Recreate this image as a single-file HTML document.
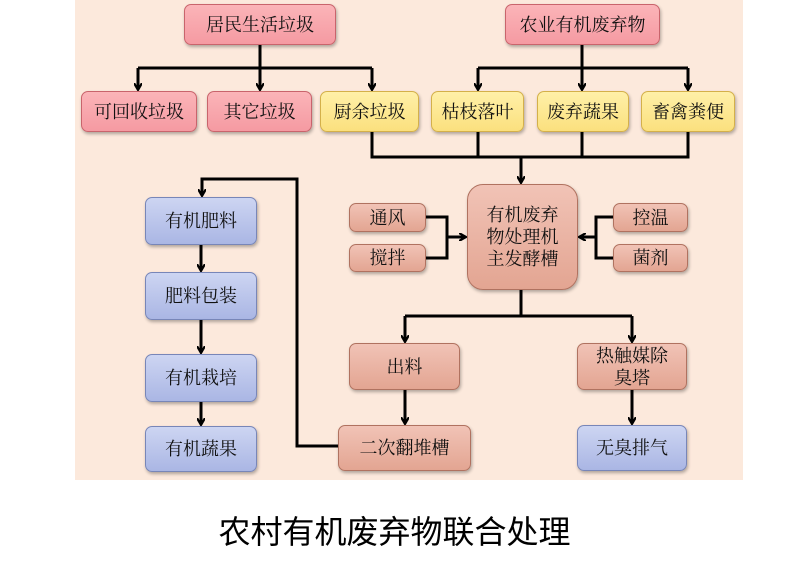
<!DOCTYPE html>
<html><head><meta charset="utf-8"><style>
body{margin:0;width:789px;height:571px;background:#fff;position:relative;overflow:hidden;font-family:"Liberation Serif","Noto Serif CJK SC","Noto Serif CJK JP",serif;}
#p{position:absolute;left:75px;top:0;width:668px;height:480px;background:#fce9dc;}
.b{position:absolute;box-sizing:border-box;display:flex;align-items:center;justify-content:center;text-align:center;font-size:18px;line-height:22px;color:#111;border-radius:7px;box-shadow:1px 2px 3px rgba(0,0,0,.3);white-space:nowrap;}
.r{background:linear-gradient(#fbb4b8,#f59aa2);border:1px solid #c9646c;}
.y{background:linear-gradient(#fff0a8,#fbe07e);border:1px solid #d4b04a;}
.s{background:linear-gradient(#f1c3b6,#e3a592);border:1px solid #b07260;}
.u{background:linear-gradient(#cdd5f2,#aab6e4);border:1px solid #7886b8;}
svg{position:absolute;left:0;top:0;}
#c{position:absolute;left:0;width:789px;top:512px;text-align:center;font-size:32px;line-height:40px;font-family:"Liberation Sans","Noto Sans CJK SC",sans-serif;}
</style></head><body>
<div id="p"></div>
<svg width="789" height="571"><defs><marker id="a" markerWidth="8" markerHeight="8" refX="6" refY="4" orient="auto" markerUnits="userSpaceOnUse"><path d="M0,0 L7,4 L0,8" fill="none" stroke="#000" stroke-width="2.2"/></marker></defs>
<g stroke="#000" stroke-width="3" fill="none">
<path d="M260,45V68"/><path d="M138,68H372"/>
<path d="M138,68V89" marker-end="url(#a)"/><path d="M260,68V89" marker-end="url(#a)"/><path d="M372,68V89" marker-end="url(#a)"/>
<path d="M582,45V68"/><path d="M478,68H688"/>
<path d="M478,68V89" marker-end="url(#a)"/><path d="M582,68V89" marker-end="url(#a)"/><path d="M688,68V89" marker-end="url(#a)"/>
<path d="M372,132V157H688V132"/><path d="M478,132V157"/><path d="M582,132V157"/>
<path d="M521,157V182" marker-end="url(#a)"/>
<path d="M426,217H447V258H426"/><path d="M447,237H465" marker-end="url(#a)"/>
<path d="M613,217H596V258H613"/><path d="M596,237H580" marker-end="url(#a)"/>
<path d="M521,290V316"/><path d="M405,316H632"/>
<path d="M405,316V341" marker-end="url(#a)"/><path d="M632,316V341" marker-end="url(#a)"/>
<path d="M405,390V423" marker-end="url(#a)"/><path d="M632,390V423" marker-end="url(#a)"/>
<path d="M338,446H297V179H202V195" marker-end="url(#a)"/>
<path d="M201,245V270" marker-end="url(#a)"/><path d="M201,320V352" marker-end="url(#a)"/><path d="M201,402V424" marker-end="url(#a)"/>
</g></svg>
<div class="b r" style="left:184px;top:4px;width:152px;height:41px">居民生活垃圾</div>
<div class="b r" style="left:505px;top:4px;width:155px;height:41px">农业有机废弃物</div>
<div class="b r" style="left:81px;top:91px;width:116px;height:41px">可回收垃圾</div>
<div class="b r" style="left:207px;top:91px;width:105px;height:41px">其它垃圾</div>
<div class="b y" style="left:320px;top:91px;width:99px;height:41px">厨余垃圾</div>
<div class="b y" style="left:431px;top:91px;width:93px;height:41px">枯枝落叶</div>
<div class="b y" style="left:537px;top:91px;width:92px;height:41px">废弃蔬果</div>
<div class="b y" style="left:641px;top:91px;width:94px;height:41px">畜禽粪便</div>
<div class="b s" style="left:467px;top:184px;width:111px;height:106px;border-radius:16px">有机废弃<br>物处理机<br>主发酵槽</div>
<div class="b s" style="left:349px;top:203px;width:77px;height:29px">通风</div>
<div class="b s" style="left:349px;top:244px;width:77px;height:28px">搅拌</div>
<div class="b s" style="left:613px;top:203px;width:75px;height:29px">控温</div>
<div class="b s" style="left:613px;top:244px;width:75px;height:28px">菌剂</div>
<div class="b s" style="left:349px;top:343px;width:111px;height:47px">出料</div>
<div class="b s" style="left:577px;top:343px;width:110px;height:47px">热触媒除<br>臭塔</div>
<div class="b s" style="left:338px;top:425px;width:133px;height:46px">二次翻堆槽</div>
<div class="b u" style="left:577px;top:425px;width:110px;height:46px">无臭排气</div>
<div class="b u" style="left:145px;top:197px;width:112px;height:48px">有机肥料</div>
<div class="b u" style="left:145px;top:272px;width:112px;height:48px">肥料包装</div>
<div class="b u" style="left:145px;top:354px;width:112px;height:48px">有机栽培</div>
<div class="b u" style="left:145px;top:426px;width:112px;height:46px">有机蔬果</div>
<div id="c">农村有机废弃物联合处理</div>
</body></html>
